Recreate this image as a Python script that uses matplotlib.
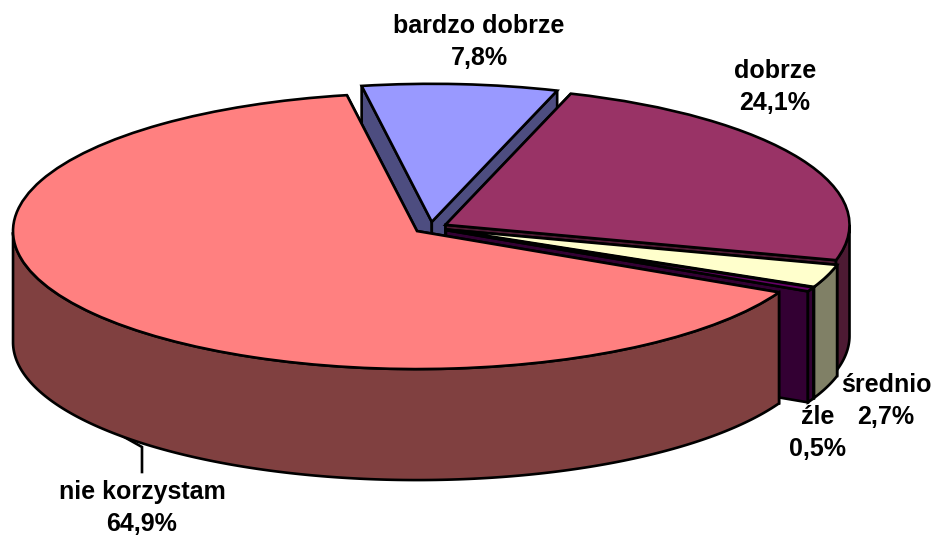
import numpy as np
import matplotlib
matplotlib.use("Agg")
import matplotlib.pyplot as plt
from matplotlib.transforms import Affine2D

categories = ["bardzo dobrze", "dobrze", "średnio", "źle", "nie korzystam"]
values = [7.8, 24.1, 2.7, 0.5, 64.9]
value_labels = ["7,8%", "24,1%", "2,7%", "0,5%", "64,9%"]
top_colors = ["#9999FF", "#993366", "#FFFFCC", "#660066", "#FF8080"]
side_colors = ["#4D4D80", "#4D1A33", "#808066", "#330033", "#804040"]
label_centers = [(479, 42), (775, 87), (886, 401), (818, 433), (142, 508)]

W, H = 933, 535
CX, CY = 430.6, 227.6      # pie centre in pixels
RX, RY = 404.0, 138.0      # ellipse radii in pixels
DEPTH = 111.0 / RY         # wall height in pie units
EXPLODE = 0.042
START = 100.0              # degrees, slices run clockwise
LW = 1.9

plt.rcParams["font.family"] = ["Liberation Sans", "DejaVu Sans"]
fig = plt.figure(figsize=(W / 100, H / 100), dpi=100, facecolor="white")
ax = fig.add_axes([0, 0, 1, 1])

wedges, _ = ax.pie(values, explode=[EXPLODE] * len(values), colors=top_colors,
                   startangle=START, counterclock=False,
                   wedgeprops=dict(edgecolor="black", linewidth=LW, joinstyle="miter"))
ax.set_aspect("auto")
ax.set_xlim(-CX / RX, (W - CX) / RX)
ax.set_ylim((CY - H) / RY, CY / RY)
ax.axis("off")

total = sum(values)
edge = dict(edgecolor="black", linewidth=LW, joinstyle="miter")
a_end = START
for i, (w, v, side) in enumerate(zip(wedges, values, side_colors)):
    a_start, a_end = a_end, a_end - 360 * v / total
    mid = np.radians((a_start + a_end) / 2)
    ox, oy = EXPLODE * np.cos(mid), EXPLODE * np.sin(mid)
    z = 2 + 2 * i
    w.set_zorder(z + 1)
    for a in (a_start, a_end):  # cut faces
        px, py = ox + np.cos(np.radians(a)), oy + np.sin(np.radians(a))
        ax.fill([ox, px, px, ox], [oy, py, py - DEPTH, oy - DEPTH],
                facecolor=side, zorder=z, **edge)
    # outer wall: only the part of the rim facing the viewer
    th = np.radians(np.linspace(a_end, a_start, 300))
    th = th[np.sin(th) <= 0]
    if th.size:
        xs, ys = ox + np.cos(th), oy + np.sin(th)
        ax.fill(np.r_[xs, xs[::-1]], np.r_[ys, ys[::-1] - DEPTH],
                facecolor=side, zorder=z, **edge)

px_tf = Affine2D().scale(1, -1).translate(0, H)  # reference pixels to display
ax.plot([117, 142, 142], [433, 447, 472], color="black", lw=1.9, transform=px_tf,
        zorder=1, solid_joinstyle="miter", clip_on=False)
for cat, lab, (x, y) in zip(categories, value_labels, label_centers):
    ax.text(x, y, f"{cat}\n{lab}", transform=px_tf, ha="center", va="center",
            fontsize=18, fontweight="bold", color="black", linespacing=1.37, zorder=30,
            clip_on=False)

fig.savefig("out.png", dpi=100, facecolor="white")
